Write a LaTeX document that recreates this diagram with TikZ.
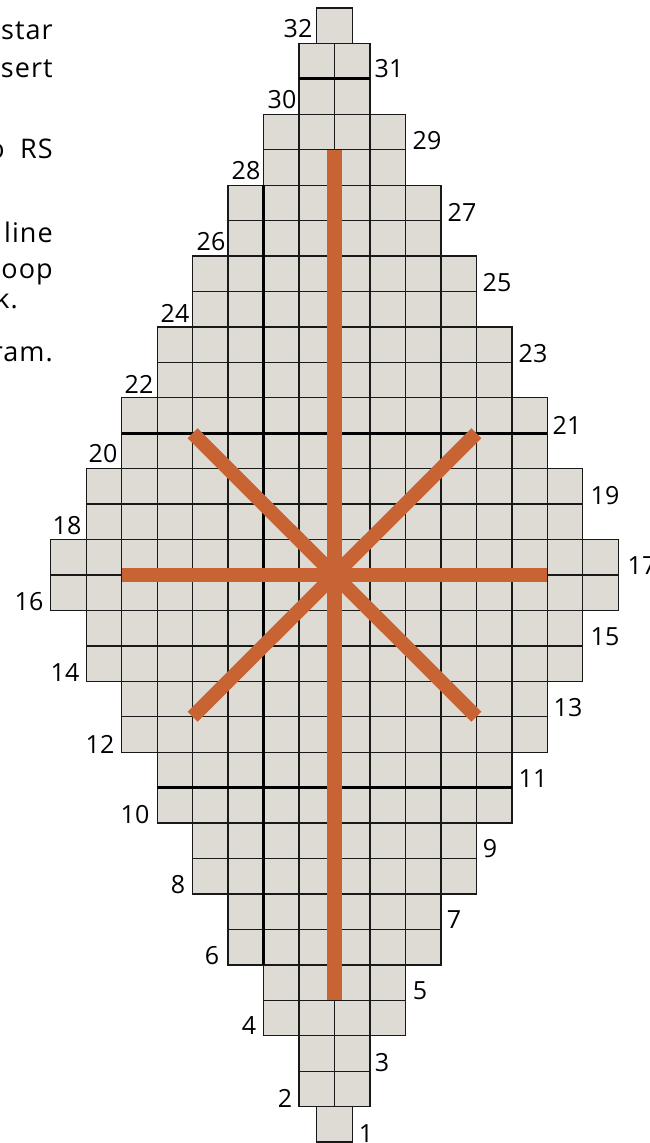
\documentclass[tikz,border=0pt]{standalone}
\usepackage{fontspec}
\setmainfont{Open Sans}
\newfontfamily\bodytext[LetterSpace=4]{Open Sans}
\definecolor{cellfill}{HTML}{DDDBD3}
\definecolor{starline}{HTML}{C86433}
\tikzset{
  cellbox/.style={fill=cellfill,draw=black!90,line width=1.3pt},
  thickrule/.style={draw=black,line width=2.9pt},
  starbar/.style={draw=starline,line width=14.2pt},
  lab/.style={inner sep=0pt,font=\fontsize{25}{25}\selectfont,text=black},
  txt/.style={inner sep=0pt,anchor=base east,font=\bodytext\fontsize{27}{27}\selectfont,text=black}
}
\begin{document}
\begin{tikzpicture}[x=1pt,y=-1pt]
\useasboundingbox (0,0) rectangle (650,1143);
\clip (0,0) rectangle (650,1143);
\fill[white] (0,0) rectangle (650,1143);
\begin{scope}[shift={(334.5,575)},x=35.47pt,y=-35.44pt]
  \foreach \w/\rows in {1/{-15,-14},2/{-13,-12},3/{-11,-10},4/{-9,-8},5/{-7,-6},6/{-5,-4},7/{-3,-2},8/{-1,0},7/{1,2},6/{3,4},5/{5,6},4/{7,8},3/{9,10},2/{11,12},1/{13,14}}{
    \foreach \j in \rows {
      \pgfmathtruncatemacro{\jn}{\j+1}
      \pgfmathtruncatemacro{\last}{\w-1}
      \pgfmathtruncatemacro{\first}{-\w}
      \foreach \i in {\first,...,\last}{
        \pgfmathtruncatemacro{\inext}{\i+1}
        \draw[cellbox] (\i,\j) rectangle (\inext,\jn);
      }
    }
  }
  \draw[cellbox] (-0.5,-16) rectangle (0.5,-15);
  \draw[cellbox] (-0.5,15) rectangle (0.5,16);
  \draw[thickrule] (-1,-14) -- (1,-14);
  \draw[thickrule] (-6,-4) -- (6,-4);
  \draw[thickrule] (-5,6) -- (5,6);
  \draw[thickrule] (-2,-11) -- (-2,11);
  \draw[starbar] (0,-12) -- (0,12);
  \draw[starbar] (-6,0) -- (6,0);
  \draw[starbar] (-4,-4) -- (4,4);
  \draw[starbar] (-4,4) -- (4,-4);
\end{scope}
\node[lab] (n32) at (298,29) {32};
\node[lab] (n31) at (389,69) {31};
\node[lab] (n30) at (282,100) {30};
\node[lab] (n29) at (427,141) {29};
\node[lab] (n28) at (246,171) {28};
\node[lab] (n27) at (462,212) {27};
\node[lab] (n26) at (211,242) {26};
\node[lab] (n25) at (497,283) {25};
\node[lab] (n24) at (175,313) {24};
\node[lab] (n23) at (533,354) {23};
\node[lab] (n22) at (139,384) {22};
\node[lab] (n21) at (567,425) {21};
\node[lab] (n20) at (103,454) {20};
\node[lab] (n19) at (605,496) {19};
\node[lab] (n18) at (67,526) {18};
\node[lab] (n17) at (642,566) {17};
\node[lab] (n16) at (29,602) {16};
\node[lab] (n15) at (605,637) {15};
\node[lab] (n14) at (65,673) {14};
\node[lab] (n13) at (568,708) {13};
\node[lab] (n12) at (100,744) {12};
\node[lab] (n11) at (533,779) {11};
\node[lab] (n10) at (135,815) {10};
\node[lab] (n9) at (490,849) {9};
\node[lab] (n8) at (178,885) {8};
\node[lab] (n7) at (454,920) {7};
\node[lab] (n6) at (212,956) {6};
\node[lab] (n5) at (420,991) {5};
\node[lab] (n4) at (249,1026) {4};
\node[lab] (n3) at (382,1063) {3};
\node[lab] (n2) at (285,1098) {2};
\node[lab] (n1) at (366,1134) {1};
\node[txt] (t1) at (53,39) {star};
\node[txt] (t2) at (53,77) {sert};
\node[txt] (t3a) at (53,158) {RS};
\node[txt] (t3b) at (5,158) {o};
\node[txt] (t4) at (53,242) {line};
\node[txt] (t5) at (53,278) {oop};
\node[txt] (t6) at (18,308) {k.};
\node[txt] (t7) at (53,361) {ram.};
\end{tikzpicture}
\end{document}
